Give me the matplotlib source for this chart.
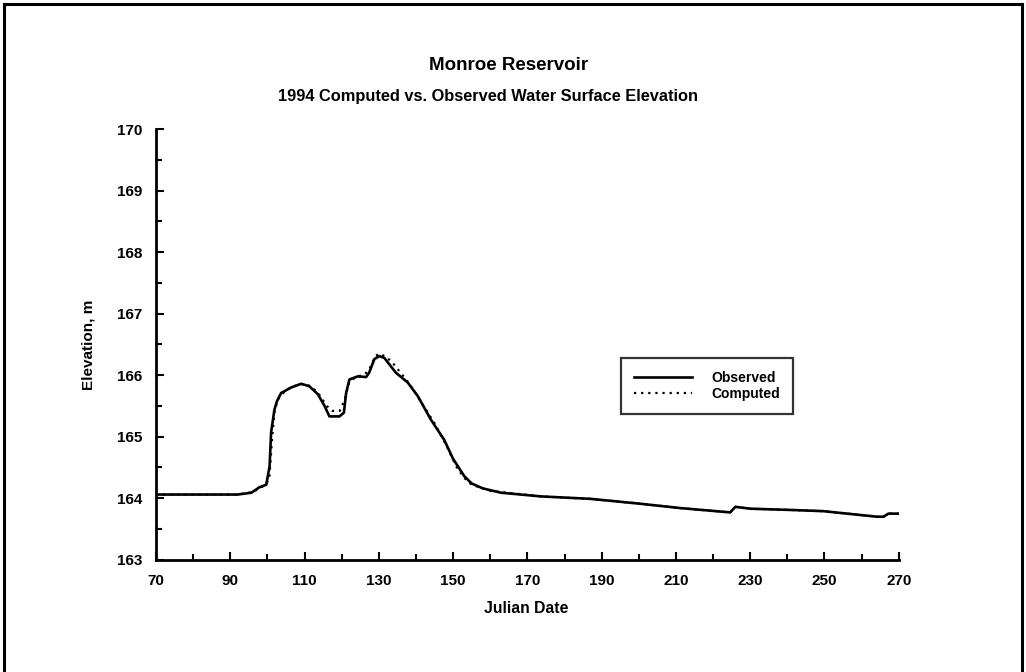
import numpy as np
import matplotlib.pyplot as plt
from matplotlib.lines import Line2D
from matplotlib.ticker import MultipleLocator

plt.rcParams['font.family'] = ['Liberation Sans', 'DejaVu Sans']
plt.rcParams['font.weight'] = 'bold'

# observed water surface elevation
obs_day = [70, 80, 92, 95.7, 97.9, 99.7, 100.6, 101.0, 101.9, 102.6, 103.7, 106.4,
           109.1, 111.3, 113.6, 115.4, 116.7, 119.4, 120.6, 121.2, 122.1, 124.3,
           126.6, 127.4, 128.8, 130.1, 131.5, 134.6, 137.8, 140.5, 144.0, 147.6,
           150.0, 153.0, 155.0, 158.0, 162.9, 173.6, 187.0, 200.5, 211.2, 224.6,
           226.0, 230.0, 240.8, 249.7, 264.1, 265.9, 267.2, 270]
obs_elev = [164.06, 164.06, 164.06, 164.09, 164.18, 164.22, 164.52, 165.07, 165.44, 165.58,
            165.71, 165.80, 165.86, 165.82, 165.69, 165.50, 165.33, 165.33, 165.39, 165.71,
            165.93, 165.98, 165.97, 166.04, 166.26, 166.31, 166.28, 166.04, 165.88, 165.66,
            165.28, 164.95, 164.64, 164.36, 164.24, 164.16, 164.09, 164.03, 163.99, 163.91,
            163.84, 163.77, 163.86, 163.83, 163.81, 163.79, 163.70, 163.70, 163.75, 163.75]

# computed water surface elevation
cmp_day = [70, 92, 96, 99, 100.5, 101.3, 102, 103, 105, 108, 110, 112, 114, 116, 117.5,
           119.5, 120.8, 122, 124, 126, 127.5, 129, 130, 132, 134, 136, 138, 141, 145,
           148, 151, 153, 155, 160, 173.6, 187, 200.5, 211.2, 224.6, 226, 230, 240.8,
           249.7, 264.1, 265.9, 267.2, 270]
cmp_elev = [164.06, 164.06, 164.10, 164.20, 164.30, 165.00, 165.45, 165.62, 165.76, 165.84,
            165.86, 165.81, 165.68, 165.50, 165.42, 165.42, 165.60, 165.88, 165.98, 166.00,
            166.10, 166.30, 166.35, 166.30, 166.18, 166.03, 165.88, 165.60, 165.22, 164.88,
            164.50, 164.33, 164.22, 164.12, 164.03, 163.99, 163.91, 163.84, 163.77, 163.86,
            163.83, 163.81, 163.79, 163.70, 163.70, 163.75, 163.75]

x_ticks = list(range(70, 271, 20))

fig = plt.figure(figsize=(10.26, 6.72), dpi=100)
ax = fig.add_axes([0.152, 0.167, 0.724, 0.641])

ax.plot(obs_day, obs_elev, color='black', lw=1.9, label='Observed')
ax.plot(cmp_day, cmp_elev, color='black', lw=1.6, linestyle=(0, (1, 2.2)), label='Computed')

ax.set_xlim(70, 270)
ax.set_ylim(163, 170)
ax.set_xticks(x_ticks)
ax.xaxis.set_minor_locator(MultipleLocator(10))
ax.yaxis.set_major_locator(MultipleLocator(1))
ax.yaxis.set_minor_locator(MultipleLocator(0.5))
ax.tick_params(which='both', direction='in', width=1.5, labelsize=11, pad=10)
ax.tick_params(which='major', length=6)
ax.tick_params(which='minor', length=4)
for s in ['top', 'right']:
    ax.spines[s].set_visible(False)
for s in ['left', 'bottom']:
    ax.spines[s].set_linewidth(2)

fig.text(0.496, 0.903, 'Monroe Reservoir', ha='center', va='center', fontsize=13.5)
fig.text(0.476, 0.856, '1994 Computed vs. Observed Water Surface Elevation',
         ha='center', va='center', fontsize=11.8)
fig.text(0.086, 0.487, 'Elevation, m', rotation=90, ha='center', va='center', fontsize=11)
fig.text(0.513, 0.094, 'Julian Date', ha='center', va='center', fontsize=11.3)

leg = ax.legend(loc='upper left', bbox_to_anchor=(621 / 1026, 1 - 358 / 672),
                bbox_transform=fig.transFigure, frameon=True, fancybox=False,
                edgecolor='black', fontsize=10, handlelength=4.2, borderpad=0.9,
                labelspacing=0.2, handletextpad=1.4, borderaxespad=0)
leg.get_frame().set_linewidth(1.6)

# page border of the scan
for xs, ys in [([0.004, 0.004], [0.0, 0.994]), ([0.004, 0.996], [0.994, 0.994]),
               ([0.996, 0.996], [0.994, 0.0])]:
    fig.add_artist(Line2D(xs, ys, color='black', lw=2.2, transform=fig.transFigure))

fig.savefig('out.png', dpi=100)
